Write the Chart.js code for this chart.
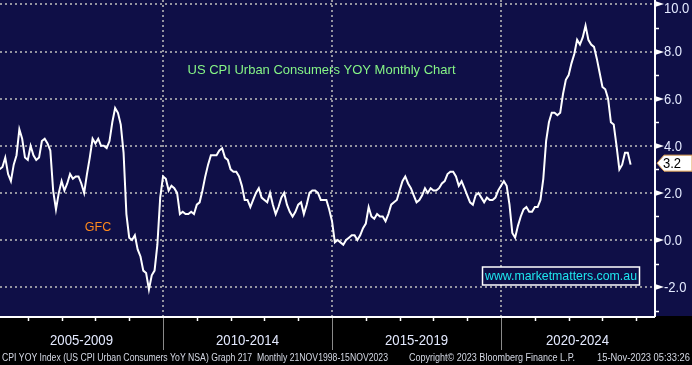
<!DOCTYPE html>
<html>
<head>
<meta charset="utf-8">
<script src="https://cdn.jsdelivr.net/npm/chart.js@4/dist/chart.umd.min.js"></script>
<style>
html,body{margin:0;padding:0;background:#000;overflow:hidden;}
#c{display:block;}
</style>
</head>
<body>
<canvas id="c" width="692" height="365"></canvas>
<script>
// ---- data (US CPI Urban Consumers YoY, monthly, Jan 2005 .. Oct 2023) ----
const startYear = 2005;
const cpiYoy = [
  3.0,3.0,3.1,3.5,2.8,2.5,3.2,3.6,4.7,4.3,3.5,3.4,
  4.0,3.6,3.4,3.5,4.2,4.3,4.1,3.8,2.1,1.3,2.0,2.5,
  2.1,2.4,2.8,2.6,2.7,2.7,2.4,2.0,2.8,3.5,4.3,4.1,
  4.3,4.0,4.0,3.9,4.2,5.0,5.6,5.4,4.9,3.7,1.1,0.1,
  0.0,0.2,-0.4,-0.7,-1.3,-1.4,-2.1,-1.5,-1.3,-0.2,1.8,2.7,
  2.6,2.1,2.3,2.2,2.0,1.1,1.2,1.1,1.1,1.2,1.1,1.5,
  1.6,2.1,2.7,3.2,3.6,3.6,3.6,3.8,3.9,3.5,3.4,3.0,
  2.9,2.9,2.7,2.3,1.7,1.7,1.4,1.7,2.0,2.2,1.8,1.7,
  1.6,2.0,1.5,1.1,1.4,1.8,2.0,1.5,1.2,1.0,1.2,1.5,
  1.6,1.1,1.5,2.0,2.1,2.1,2.0,1.7,1.7,1.7,1.3,0.8,
  -0.1,0.0,-0.1,-0.2,0.0,0.1,0.2,0.2,0.0,0.2,0.5,0.7,
  1.4,1.0,0.9,1.1,1.0,1.0,0.8,1.1,1.5,1.6,1.7,2.1,
  2.5,2.7,2.4,2.2,1.9,1.6,1.7,1.9,2.2,2.0,2.2,2.1,
  2.1,2.2,2.4,2.5,2.8,2.9,2.9,2.7,2.3,2.5,2.2,1.9,
  1.6,1.5,1.9,2.0,1.8,1.6,1.8,1.7,1.7,1.8,2.1,2.3,
  2.5,2.3,1.5,0.3,0.1,0.6,1.0,1.3,1.4,1.2,1.2,1.4,
  1.4,1.7,2.6,4.2,5.0,5.4,5.4,5.3,5.4,6.2,6.8,7.0,
  7.5,7.9,8.5,8.3,8.6,9.1,8.5,8.3,8.2,7.7,7.1,6.5,
  6.4,6.0,5.0,4.9,4.0,3.0,3.2,3.7,3.7,3.2
];
const periodStarts = [2005, 2010, 2015, 2020, 2025];
const periodLabels = ['2005-2009', '2010-2014', '2015-2019', '2020-2024'];
const yMajorTicks = [-2, 0, 2, 4, 6, 8, 10];
const yMinorTicks = [-3, -1, 1, 3, 5, 7, 9];
const yTickLabels = ['-2.0', '0.0', '2.0', '4.0', '6.0', '8.0', '10.0'];
const titleText = 'US CPI Urban Consumers YOY Monthly Chart';
const gfcText = 'GFC';
const siteText = 'www.marketmatters.com.au';
const footerLeft = 'CPI YOY Index (US CPI Urban Consumers YoY NSA) Graph 217  Monthly 21NOV1998-15NOV2023';
const footerMid = 'Copyright\u00A9 2023 Bloomberg Finance L.P.';
const footerRight = '15-Nov-2023 05:33:26';

// points at month end: x in months since Jan of startYear
const points = cpiYoy.map((v, i) => ({x: i + 1, y: v}));

const NAVY = '#0f0f47';
const GRID = '#9494a0';
const LABEL = '#e4eaff';

function fitText(ctx, txt, x, y, w) {
  ctx.fillText(txt, x, y, w);
}

const bbgPlugin = {
  id: 'bbg',
  beforeDraw(chart) {
    const ctx = chart.ctx, a = chart.chartArea;
    ctx.save();
    ctx.fillStyle = '#000';
    ctx.fillRect(0, 0, chart.width, chart.height);
    ctx.fillStyle = NAVY;
    ctx.fillRect(0, 0, chart.width, a.bottom);
    ctx.restore();
  },
  beforeDatasetsDraw(chart) {
    const ctx = chart.ctx, a = chart.chartArea;
    const xs = chart.scales.x, ys = chart.scales.y;
    ctx.save();
    ctx.strokeStyle = GRID;
    ctx.lineWidth = 2;
    ctx.setLineDash([2, 3]);
    yMajorTicks.forEach(v => {
      const y = Math.round(ys.getPixelForValue(v));
      ctx.beginPath(); ctx.moveTo(a.left, y); ctx.lineTo(a.right, y); ctx.stroke();
    });
    periodStarts.forEach(yr => {
      const x = Math.round(xs.getPixelForValue((yr - startYear) * 12));
      if (x <= a.left + 2 || x >= a.right - 2) return;
      ctx.beginPath(); ctx.moveTo(x, a.top); ctx.lineTo(x, a.bottom); ctx.stroke();
    });
    ctx.restore();
  },
  afterDatasetsDraw(chart) {
    const ctx = chart.ctx, a = chart.chartArea;
    const xs = chart.scales.x, ys = chart.scales.y;
    ctx.save();
    // annotations
    ctx.textBaseline = 'middle';
    ctx.textAlign = 'center';
    ctx.fillStyle = '#86f586';
    ctx.font = '13.5px "Liberation Sans", Arial, sans-serif';
    ctx.fillText(titleText, 321.5, 70, 268);
    ctx.fillStyle = '#ff8a1c';
    ctx.font = '12.5px "Liberation Sans", Arial, sans-serif';
    ctx.fillText(gfcText, 98, 228);
    // website box
    ctx.fillStyle = NAVY;
    ctx.fillRect(482, 267, 158, 18);
    ctx.strokeStyle = '#ffffff';
    ctx.lineWidth = 1.5;
    ctx.strokeRect(482.5, 267, 157, 18);
    ctx.fillStyle = '#1ee6ee';
    ctx.font = '13px "Liberation Sans", Arial, sans-serif';
    ctx.fillText(siteText, 561, 276.5, 152);

    // axes lines
    ctx.strokeStyle = '#ffffff';
    ctx.lineWidth = 2;
    ctx.beginPath();
    ctx.moveTo(a.left, a.bottom + 1); ctx.lineTo(a.right + 1, a.bottom + 1);
    ctx.moveTo(a.right + 1, 0); ctx.lineTo(a.right + 1, a.bottom + 1);
    ctx.stroke();

    // y major ticks (arrows) and labels
    ctx.fillStyle = '#ffffff';
    yMajorTicks.forEach((v, i) => {
      const y = Math.round(ys.getPixelForValue(v));
      ctx.beginPath();
      ctx.moveTo(a.right + 1, y - 3); ctx.lineTo(a.right + 10, y); ctx.lineTo(a.right + 1, y + 3);
      ctx.closePath(); ctx.fill();
    });
    ctx.lineWidth = 1.5;
    yMinorTicks.forEach(v => {
      const y = Math.round(ys.getPixelForValue(v)) + 0.5;
      ctx.beginPath(); ctx.moveTo(a.right + 1, y); ctx.lineTo(a.right + 5, y); ctx.stroke();
    });
    ctx.fillStyle = LABEL;
    ctx.textAlign = 'left';
    ctx.font = '14px "Liberation Sans", Arial, sans-serif';
    yMajorTicks.forEach((v, i) => {
      let y = ys.getPixelForValue(v) + 1;
      if (y < 9) y = 9;
      const t = yTickLabels[i];
      const w = ctx.measureText(t).width * 0.93;
      ctx.fillText(t, a.right + 10, y, w);
    });

    // last value tag
    const lastV = cpiYoy[cpiYoy.length - 1];
    const ty = ys.getPixelForValue(lastV) - 1.5;
    ctx.beginPath();
    ctx.moveTo(a.right + 3, ty);
    ctx.lineTo(a.right + 10, ty - 8);
    ctx.lineTo(chart.width, ty - 8);
    ctx.lineTo(chart.width, ty + 8);
    ctx.lineTo(a.right + 10, ty + 8);
    ctx.closePath();
    ctx.fillStyle = '#ffffff';
    ctx.fill();
    ctx.strokeStyle = '#e0a050';
    ctx.lineWidth = 1;
    ctx.stroke();
    ctx.fillStyle = '#000000';
    ctx.font = '14px "Liberation Sans", Arial, sans-serif';
    ctx.fillText(lastV.toFixed(1), a.right + 9, ty + 0.5, ctx.measureText(lastV.toFixed(1)).width * 0.93);

    // x year ticks
    ctx.strokeStyle = '#ffffff';
    ctx.lineWidth = 1.5;
    for (let yr = startYear; yr <= 2025; yr++) {
      if (periodStarts.includes(yr)) continue;
      const x = Math.round(xs.getPixelForValue((yr - startYear) * 12)) + 0.5;
      if (x < a.left || x > a.right) continue;
      ctx.beginPath(); ctx.moveTo(x, a.bottom + 1); ctx.lineTo(x, a.bottom + 5); ctx.stroke();
    }
    // period separators
    ctx.strokeStyle = '#8a8a8a';
    ctx.lineWidth = 1;
    periodStarts.forEach(yr => {
      const x = Math.round(xs.getPixelForValue((yr - startYear) * 12)) + 0.5;
      if (x <= a.left + 2 || x >= a.right - 2) return;
      ctx.beginPath(); ctx.moveTo(x, a.bottom + 2); ctx.lineTo(x, a.bottom + 34); ctx.stroke();
    });
    // period labels centred in their visible span
    ctx.fillStyle = LABEL;
    ctx.textAlign = 'center';
    ctx.font = '14px "Liberation Sans", Arial, sans-serif';
    periodLabels.forEach((t, i) => {
      const x0 = Math.max(a.left, xs.getPixelForValue((periodStarts[i] - startYear) * 12));
      const x1 = Math.min(a.right, xs.getPixelForValue((periodStarts[i + 1] - startYear) * 12));
      ctx.fillText(t, (x0 + x1) / 2, 341.5, 63);
    });

    // footer
    ctx.fillStyle = '#d4d8e4';
    ctx.textAlign = 'left';
    ctx.font = '10px "Liberation Sans", Arial, sans-serif';
    ctx.fillText(footerLeft, 2, 358, 386);
    ctx.fillText(footerMid, 409, 358, 166);
    ctx.fillText(footerRight, 597, 358, 93);
    ctx.restore();
  }
};

new Chart(document.getElementById('c'), {
  type: 'line',
  data: {
    datasets: [{
      data: points,
      borderColor: '#ffffff',
      borderWidth: 2,
      pointRadius: 0,
      tension: 0,
      fill: false
    }]
  },
  options: {
    responsive: false,
    animation: false,
    devicePixelRatio: 1,
    layout: {padding: {left: 0, top: 0, right: 38, bottom: 49}},
    plugins: {legend: {display: false}, title: {display: false}, tooltip: {enabled: false}},
    scales: {
      x: {type: 'linear', min: 2.13, max: 234.3, display: false},
      y: {type: 'linear', min: -3.226, max: 10.19, display: false}
    }
  },
  plugins: [bbgPlugin]
});
</script>
</body>
</html>
